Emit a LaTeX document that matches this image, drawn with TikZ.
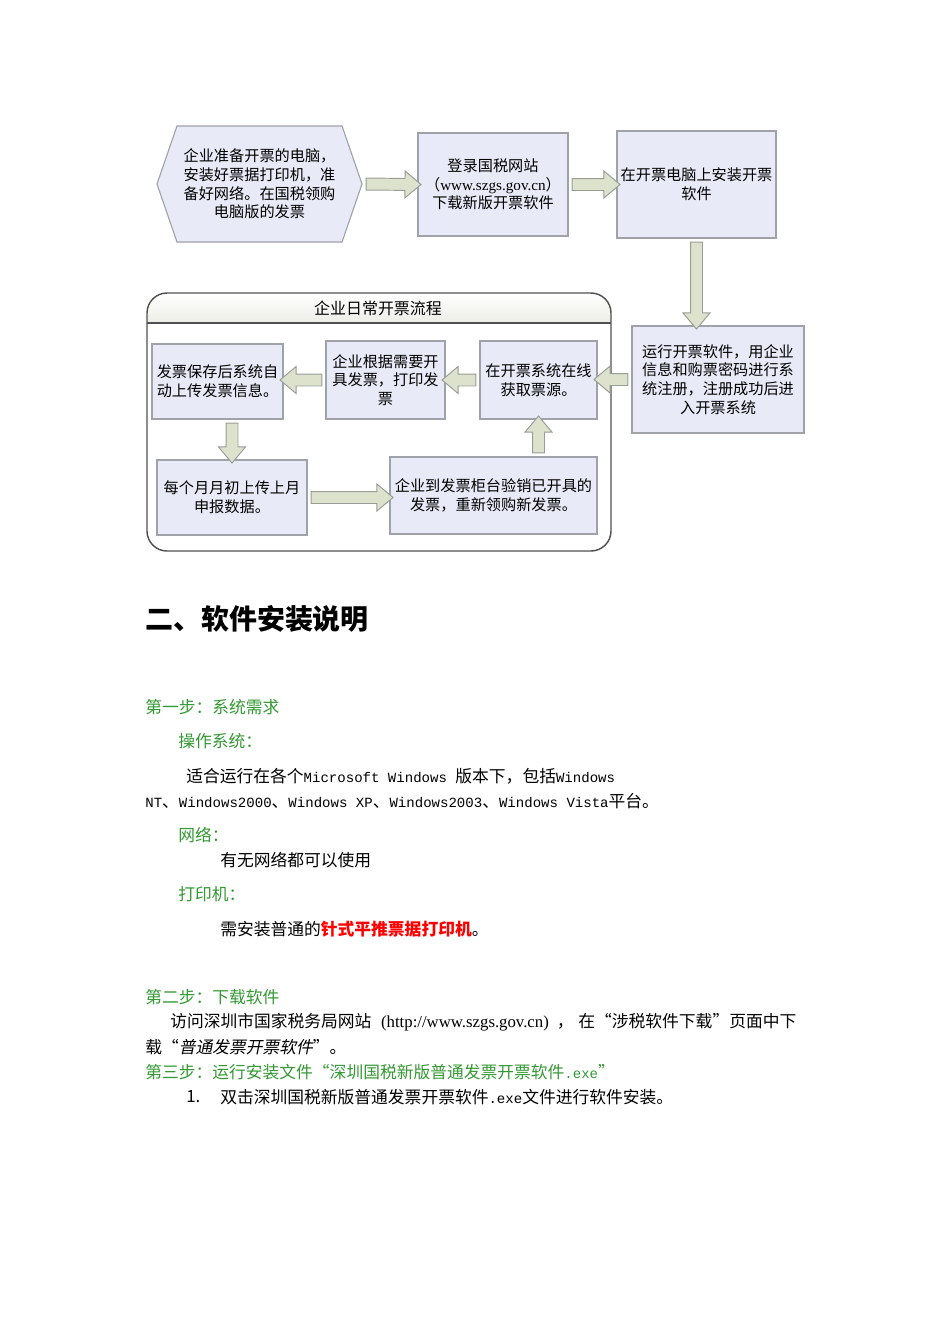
\documentclass[tikz,border=0pt]{standalone}
\usepackage{fontspec}
\setmainfont{Noto Sans CJK SC}
\newfontfamily\tms{Liberation Serif}
\newfontfamily\mono{Liberation Mono}
\newfontfamily\cjkit{Noto Sans CJK SC}[FakeSlant=0.2]
\usetikzlibrary{shapes.symbols,shapes.arrows,calc}
\definecolor{boxfill}{HTML}{E8EBF7}
\definecolor{boxline}{HTML}{A0A2AA}
\definecolor{arrfill}{HTML}{DDE2CC}
\definecolor{arrline}{HTML}{9A9C98}
\definecolor{grpline}{HTML}{505050}
\definecolor{hdrfill}{HTML}{EDEDE6}
\definecolor{stepgreen}{HTML}{339933}
\definecolor{hired}{HTML}{FF0000}
\newlength\pu \setlength\pu{0.6263pt}
\tikzset{
  flowbox/.style={draw=boxline, fill=boxfill, line width=0.7pt, align=center,
    inner sep=0pt, font=\fontsize{9.5}{11.7}\selectfont},
  blockarr/.style={single arrow, draw=arrline, fill=arrfill, line width=0.6pt,
    inner xsep=0pt, inner ysep={5.5*\pu}, minimum width=0pt,
    single arrow head extend={7.5*\pu}, single arrow tip angle=80},
  bodytext/.style={anchor=west, inner sep=0pt, font=\fontsize{10.5}{12}\selectfont},
  steptext/.style={bodytext, text=stepgreen},
}
\newcommand\blockarrow[2]{%
  \path let \p1=(#1), \p2=(#2), \n1={atan2(\y2-\y1,\x2-\x1)},
    \n2={veclen(\x2-\x1,\y2-\y1)} in
    node[blockarr, minimum height=\n2, rotate=\n1] at ($(#1)!0.5!(#2)$) {};}
\newcommand\mn[1]{{\mono\fontsize{8.8}{12}\selectfont #1}}
\begin{document}
\begin{tikzpicture}[x=0.6263pt, y=-0.6263pt]
\useasboundingbox[fill=white] (0,0) rectangle (950,1344);

% ---------- top row ----------
\node[flowbox, shape=signal, signal to=west and east, signal pointer angle=142,
  minimum width={205*\pu}, minimum height={116*\pu}] (hex) at (259.5,184)
  {企业准备开票的电脑，\\安装好票据打印机，准\\备好网络。在国税领购\\电脑版的发票};
\node[flowbox, minimum width={150*\pu}, minimum height={103*\pu}] (b2) at (493,184.5)
  {登录国税网站\\（{\tms www.szgs.gov.cn}）\\下载新版开票软件};
\node[flowbox, minimum width={159*\pu}, minimum height={107*\pu}] (b3) at (696.5,184.5)
  {在开票电脑上安装开票\\软件};
\node[flowbox, minimum width={172*\pu}, minimum height={107*\pu}] (b4) at (718,379.5)
  {运行开票软件，用企业\\信息和购票密码进行系\\统注册，注册成功后进\\入开票系统};

% ---------- group container ----------
\fill[white, rounded corners={20*\pu}] (147,293) rectangle (611,551);
\shade[top color=white, bottom color=hdrfill]
  (147,323) [rounded corners={20*\pu}] -- (147,293) -- (611,293) [sharp corners] -- (611,323) -- cycle;
\draw[grpline, line width=0.9pt, rounded corners={20*\pu}] (147,293) rectangle (611,551);
\draw[grpline, line width=0.9pt] (147,323) -- (611,323);
\node[inner sep=0pt, font=\fontsize{10}{12}\selectfont] (grptitle) at (378,308) {企业日常开票流程};

\node[flowbox, minimum width={117*\pu}, minimum height={78*\pu}] (b5) at (538.5,380)
  {在开票系统在线\\获取票源。};
\node[flowbox, minimum width={119*\pu}, minimum height={78*\pu}] (b6) at (385.5,380)
  {企业根据需要开\\具发票，打印发\\票};
\node[flowbox, minimum width={131*\pu}, minimum height={75*\pu}] (b7) at (217.5,381.5)
  {发票保存后系统自\\动上传发票信息。};
\node[flowbox, minimum width={150*\pu}, minimum height={75*\pu}] (b8) at (232,497.5)
  {每个月月初上传上月\\申报数据。};
\node[flowbox, minimum width={207*\pu}, minimum height={77*\pu}] (b9) at (493.5,495.5)
  {企业到发票柜台验销已开具的\\发票，重新领购新发票。};

% ---------- block arrows ----------
\blockarrow{hex.east}{b2.west}
\blockarrow{b2.east}{b3.west}
\blockarrow{b3.south}{b3.south |- b4.north}
\blockarrow{b4.west}{b4.west -| b5.east}
\blockarrow{b5.west}{b5.west -| b6.east}
\blockarrow{b6.west}{b6.west -| b7.east}
\blockarrow{b8.north |- b7.south}{b8.north}
\blockarrow{b8.east}{b8.east -| b9.west}
\blockarrow{b5.south |- b9.north}{b5.south}

% ---------- text part ----------
\node[anchor=west, inner sep=0pt, font=\fontsize{17.5}{20}\selectfont\bfseries] (h2) at (145,619) {二、软件安装说明};

\node[steptext] (s1) at (145,707) {第一步：系统需求};
\node[steptext] (os) at (178,741) {操作系统：};
\node[bodytext] (l1) at (186,776) {适合运行在各个\mn{Microsoft Windows }版本下，包括\mn{Windows}};
\node[bodytext] (l2) at (145,801) {\mn{NT}、\mn{Windows2000}、\mn{Windows XP}、\mn{Windows2003}、\mn{Windows Vista}平台。};
\node[steptext] (net) at (178,835) {网络：};
\node[bodytext] (l3) at (220,860) {有无网络都可以使用};
\node[steptext] (prn) at (178,894) {打印机：};
\node[bodytext] (l4) at (220,929) {需安装普通的{\bfseries\color{hired}针式平推票据打印机}。};

\node[steptext] (s2) at (145,997) {第二步：下载软件};
\node[bodytext] (l5) at (170,1022) {访问深圳市国家税务局网站\hspace{6pt}{\tms (http://www.szgs.gov.cn)}\hspace{5pt}，\hspace{3pt}在“涉税软件下载”页面中下};
\node[bodytext] (l6) at (145,1047) {载“{\cjkit 普通发票开票软件}”。};
\node[steptext] (s3) at (145,1072) {第三步：运行安装文件“深圳国税新版普通发票开票软件\mn{.exe}”};
\node[bodytext] (n1) at (186,1097) {1.};
\node[bodytext] (l7) at (220,1097) {双击深圳国税新版普通发票开票软件\mn{.exe}文件进行软件安装。};
\end{tikzpicture}
\end{document}
